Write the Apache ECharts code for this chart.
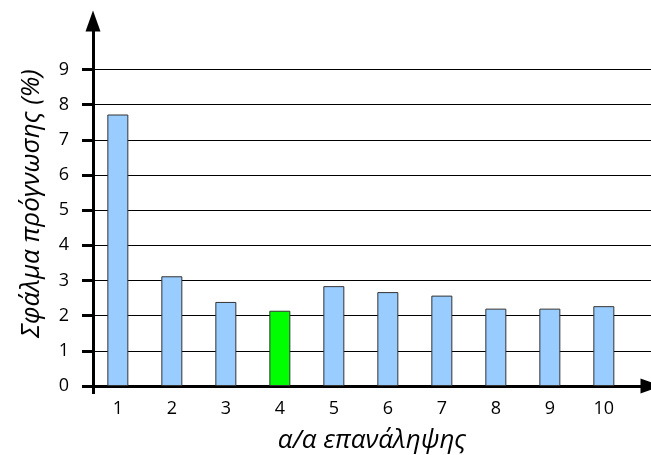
<!DOCTYPE html>
<html>
<head>
<meta charset="utf-8">
<script src="https://cdn.jsdelivr.net/npm/echarts@6/dist/echarts.min.js"></script>
<style>
  html, body { margin: 0; padding: 0; background: #fff; }
  #chart { width: 651px; height: 455px; }
</style>
</head>
<body>
<div id="chart"></div>
<script>
// Iteration index and forecast error (%) for each run
const iterations = [1, 2, 3, 4, 5, 6, 7, 8, 9, 10];
const errors = [7.72, 3.12, 2.39, 2.14, 2.84, 2.67, 2.57, 2.2, 2.2, 2.27];
const bestIteration = 4;
const yTicks = [0, 1, 2, 3, 4, 5, 6, 7, 8, 9];

const xTitle = 'α/α επανάληψης';
const yTitle = 'Σφάλμα πρόγνωσης (%)';

const FONT = '"Open Sans", "Noto Sans", sans-serif';
const BAR_BLUE = '#99CCFF';
const BAR_GREEN = '#00FF00';

const xMin = 0.54;
const unitPx = 54;
const plotLeft = 93;
const plotBottom = 69;
const plotWidth = 651 - plotLeft;
const xMax = xMin + plotWidth / unitPx;

const chart = echarts.init(document.getElementById('chart'), null, { renderer: 'canvas' });

chart.setOption({
  backgroundColor: '#ffffff',
  animation: false,
  grid: [
    // main plotting area
    { left: plotLeft, top: 69.5, width: plotWidth, bottom: plotBottom, containLabel: false, outerBoundsMode: 'none' },
    // tall strip carrying the arrowed vertical axis and its title
    { left: plotLeft, top: 21, width: 1, bottom: plotBottom, containLabel: false, outerBoundsMode: 'none' }
  ],
  xAxis: [
    {
      type: 'value',
      gridIndex: 0,
      min: xMin,
      max: xMax,
      axisLine: {
        show: true,
        lineStyle: { color: '#000', width: 3 },
        symbol: ['none', 'triangle'],
        symbolSize: [15, 21],
        symbolOffset: [0, 0]
      },
      axisTick: {
        show: true,
        customValues: [xMin],
        length: 8,
        inside: false,
        lineStyle: { color: '#000', width: 3 }
      },
      axisLabel: {
        show: true,
        customValues: iterations,
        formatter: v => String(v),
        margin: 14,
        fontFamily: FONT,
        fontSize: 18,
        color: '#000'
      },
      splitLine: { show: false },
      name: xTitle,
      nameLocation: 'middle',
      nameGap: 42,
      nameTextStyle: {
        fontFamily: FONT,
        fontStyle: 'italic',
        fontSize: 26,
        color: '#000'
      }
    },
    {
      type: 'value',
      gridIndex: 1,
      show: false
    }
  ],
  yAxis: [
    {
      type: 'value',
      gridIndex: 0,
      min: 0,
      max: 9,
      interval: 1,
      axisLine: { show: true, lineStyle: { color: '#000', width: 3 } },
      axisTick: {
        show: true,
        length: 11,
        inside: false,
        lineStyle: { color: '#000', width: 3 }
      },
      axisLabel: {
        show: true,
        customValues: yTicks,
        margin: 24,
        fontFamily: FONT,
        fontSize: 18,
        color: '#000'
      },
      splitLine: { show: true, lineStyle: { color: '#000', width: 1 } }
    },
    {
      type: 'value',
      gridIndex: 1,
      min: 0,
      max: 1,
      axisLine: {
        show: true,
        lineStyle: { color: '#000', width: 3 },
        symbol: ['none', 'triangle'],
        symbolSize: [15, 21],
        symbolOffset: [0, 0]
      },
      axisTick: { show: false },
      axisLabel: { show: false },
      splitLine: { show: false },
      name: yTitle,
      nameLocation: 'middle',
      nameGap: 48,
      nameTextStyle: {
        fontFamily: FONT,
        fontStyle: 'italic',
        fontSize: 26,
        color: '#000'
      }
    }
  ],
  series: [
    {
      type: 'bar',
      xAxisIndex: 0,
      yAxisIndex: 0,
      barWidth: 21,
      data: iterations.map((it, i) => ({
        value: [it, errors[i]],
        itemStyle: {
          color: it === bestIteration ? BAR_GREEN : BAR_BLUE,
          borderColor: '#333333',
          borderWidth: 1
        }
      })),
      z: 2
    }
  ]
});
</script>
</body>
</html>
